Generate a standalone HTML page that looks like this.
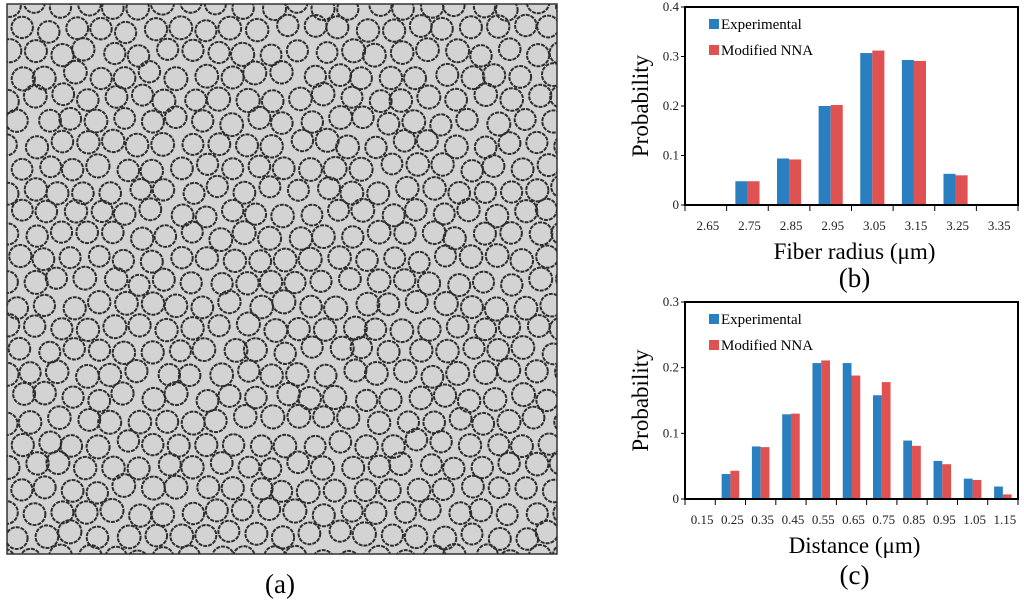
<!DOCTYPE html>
<html><head><meta charset="utf-8">
<style>
html,body{margin:0;padding:0;background:#fff;}
svg{display:block;font-family:"Liberation Serif",serif;}
</style></head>
<body>
<svg id="fig" width="1024" height="602" viewBox="0 0 1024 602" xmlns="http://www.w3.org/2000/svg">
  <g id="panelA">
    <rect x="7" y="4" width="550" height="550" fill="#d3d3d3" stroke="#333" stroke-width="1.5"/>
    <clipPath id="clipA"><rect x="7" y="4" width="550" height="550"/></clipPath>
    <g id="circles" clip-path="url(#clipA)"></g>
  </g>
  <text x="280" y="593" font-size="27" text-anchor="middle">(a)</text>
  <g id="chartB"></g>
  <g id="chartC"></g>
</svg>
<script>
// Chart (b) data
const catsB = ["2.65","2.75","2.85","2.95","3.05","3.15","3.25","3.35"];
const expB = [0,0.048,0.094,0.200,0.307,0.293,0.063,0];
const modB = [0,0.048,0.092,0.202,0.312,0.291,0.060,0];
const ticksB = ["0","0.1","0.2","0.3","0.4"];
const tickValsB = [0,0.1,0.2,0.3,0.4];
// Chart (c) data
const catsC = ["0.15","0.25","0.35","0.45","0.55","0.65","0.75","0.85","0.95","1.05","1.15"];
const expC = [0,0.038,0.080,0.129,0.207,0.207,0.158,0.089,0.058,0.031,0.019];
const modC = [0,0.043,0.079,0.130,0.211,0.188,0.178,0.081,0.053,0.029,0.007];
const ticksC = ["0","0.1","0.2","0.3"];
const tickValsC = [0,0.1,0.2,0.3];

const NS="http://www.w3.org/2000/svg";
function mk(tag,attrs,parent){const e=document.createElementNS(NS,tag);for(const k in attrs)e.setAttribute(k,attrs[k]);parent.appendChild(e);return e;}

function drawChart(g,cfg){
  const {x0,x1,y0,y1,ymax,cats,exp,mod,tickLabels,tickVals,xlabel,plabel,plabelY,xlabelY,name}=cfg;
  const cw=(x1-x0)/cats.length;
  const xs=i=>x0+i*cw;
  const ys=v=>y1-(v/ymax)*(y1-y0);
  const bw=cw*0.29, off=(cw-2*bw)/2;
  const fr=mk('rect',{x:x0,y:y0,width:x1-x0,height:y1-y0,fill:'none',stroke:'#000','stroke-width':2},g);
  
  
  for(let i=0;i<cats.length;i++){
    if(exp[i]>0){
      const b=mk('rect',{x:xs(i)+off,y:ys(exp[i]),width:bw,height:y1-ys(exp[i]),fill:'#2a7fc0'},g);
      
      
    }
    if(mod[i]>0){
      const b=mk('rect',{x:xs(i)+off+bw,y:ys(mod[i]),width:bw,height:y1-ys(mod[i]),fill:'#e05252'},g);
      
      
    }
  }
  const xa=mk('line',{x1:x0,y1:y1,x2:x1,y2:y1,stroke:'#000','stroke-width':2},g);
  
  
  for(let i=0;i<=cats.length;i++){
    const t=mk('line',{x1:xs(i),y1:y1,x2:xs(i),y2:y1+6,stroke:'#000','stroke-width':1},g);
    
    
  }
  for(let i=0;i<cats.length;i++){
    const t=mk('text',{x:xs(i)+cw/2+2,y:y1+25,'font-size':13,'text-anchor':'middle',fill:'#222'},g);
    t.textContent=cats[i];
    
    
  }
  for(let i=0;i<tickVals.length;i++){
    const tm=mk('line',{x1:x0-4,y1:ys(tickVals[i]),x2:x0,y2:ys(tickVals[i]),stroke:'#000','stroke-width':1},g);
    
    
    const t=mk('text',{x:x0-6,y:ys(tickVals[i])+4,'font-size':13,'text-anchor':'end',fill:'#222'},g);
    t.textContent=tickLabels[i];
    
    
  }
  const yl=mk('text',{x:0,y:0,'font-size':23,'text-anchor':'middle',transform:`translate(648,${(y0+y1)/2}) rotate(-90)`},g);
  yl.textContent='Probability';
  
  
  const xl=mk('text',{x:(x0+x1)/2+3,y:xlabelY,'font-size':23,'text-anchor':'middle'},g);
  xl.textContent=xlabel;
  
  
  const pl=mk('text',{x:(x0+x1)/2+3,y:plabelY,'font-size':27,'text-anchor':'middle'},g);
  pl.textContent=plabel;
  
  
  const ly=[y0+19,y0+45], lc=['#2a7fc0','#e05252'], lt=['Experimental','Modified NNA'];
  for(let k=0;k<2;k++){
    const s=mk('rect',{x:709,y:ly[k]-7,width:10,height:10,fill:lc[k]},g);
    
    
    const t=mk('text',{x:721,y:ly[k]+3,'font-size':15,'font-family':'Liberation Serif, serif'},g);
    t.textContent=lt[k];
    
    
  }
}
drawChart(document.getElementById('chartB'),{x0:685,x1:1018,y0:7,y1:205,ymax:0.4,cats:catsB,exp:expB,mod:modB,tickLabels:ticksB,tickVals:tickValsB,xlabel:'Fiber radius (\u03bcm)',plabel:'(b)',xlabelY:259,plabelY:287,name:'radius'});
drawChart(document.getElementById('chartC'),{x0:685,x1:1018,y0:302,y1:499,ymax:0.3,cats:catsC,exp:expC,mod:modC,tickLabels:ticksC,tickVals:tickValsC,xlabel:'Distance (\u03bcm)',plabel:'(c)',xlabelY:553,plabelY:584,name:'distance'});

// Panel (a) decorative fiber circles (texture, not data)
(function(){
  const g=document.getElementById('circles');
  let s=98765; const rnd=()=>{s=(s*1103515245+12345)%2147483648;return s/2147483648;};
  const sp=26.5, rh=23, r=11;
  for(let row=0;row<25;row++){
    for(let col=0;col<22;col++){
      const cx=7+col*sp+(row%2?sp/2:0)+(rnd()-0.5)*8;
      const cy=6+row*rh+(rnd()-0.5)*8;
      const c=mk('circle',{cx:cx.toFixed(1),cy:cy.toFixed(1),r:(r+(rnd()-0.5)*1.2).toFixed(1),fill:'none',stroke:'#2e2e2e','stroke-width':2,'stroke-dasharray':'4 1'},g);
      
      
    }
  }
})();
</script>
</body></html>
